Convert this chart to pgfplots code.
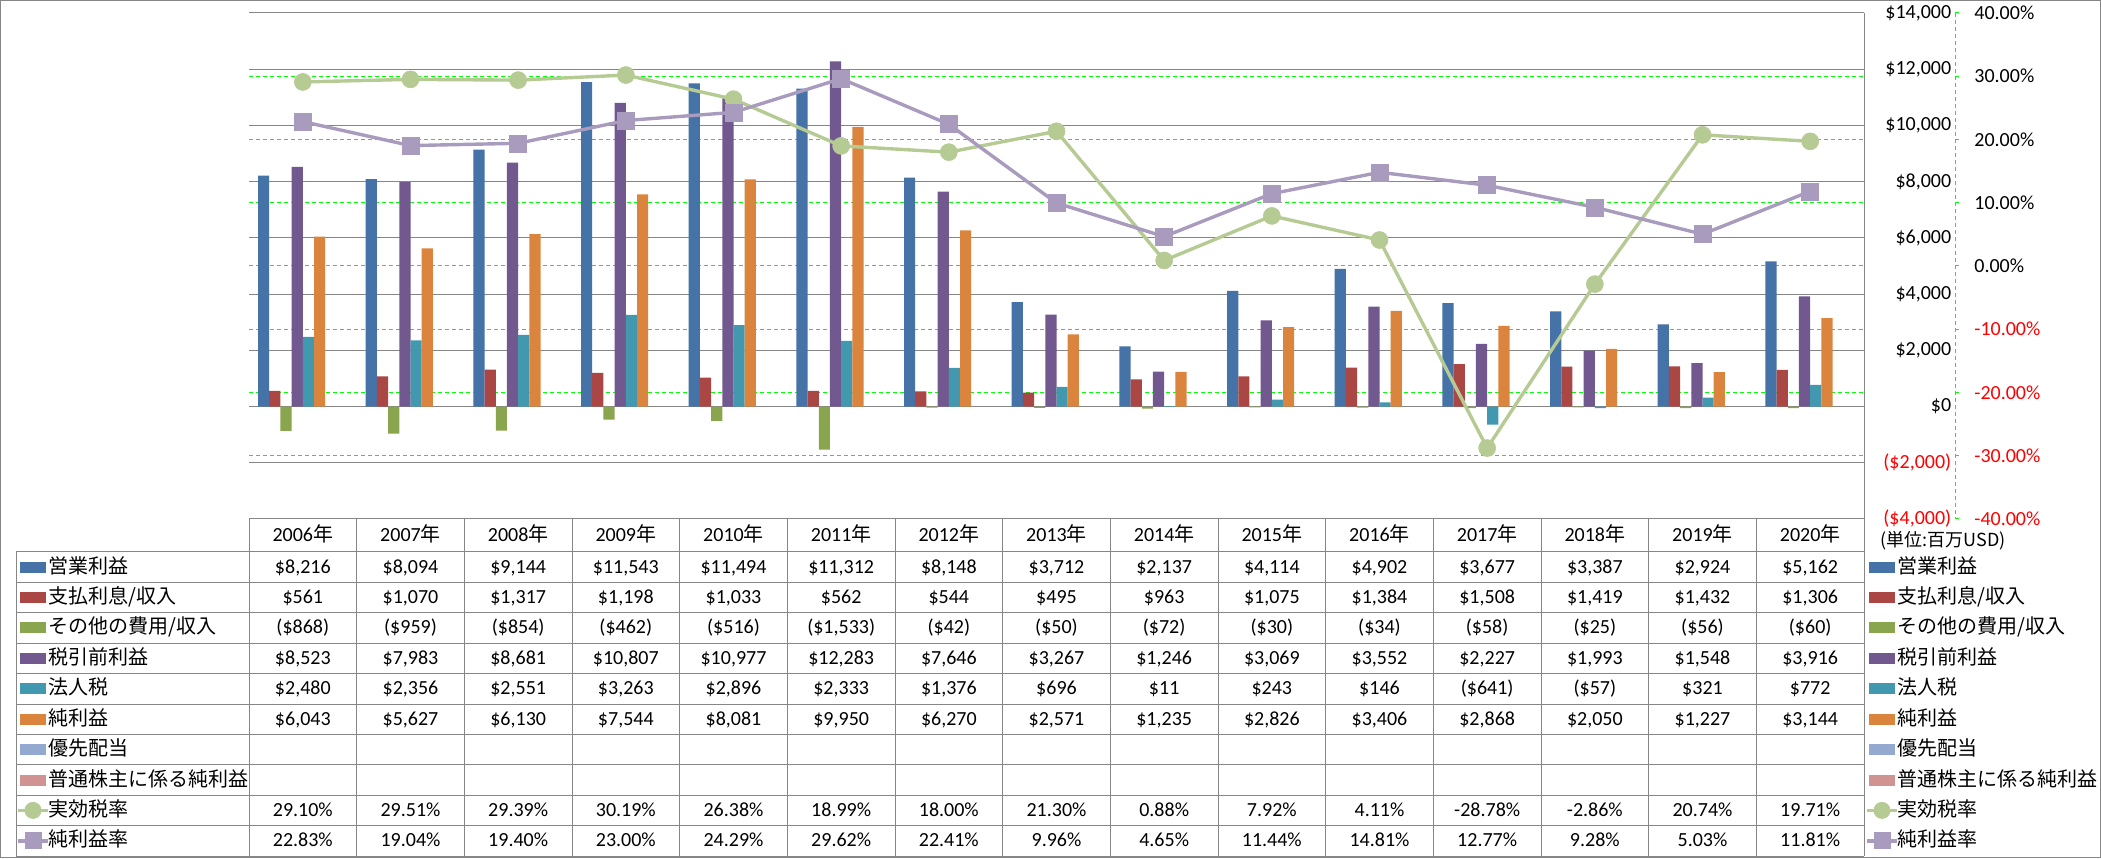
\documentclass[border=0pt]{standalone}
\usepackage{fontspec}
\setmainfont{Carlito}
\newfontfamily\jp{Noto Sans CJK JP}
\usepackage{pgfplots}
\pgfplotsset{compat=1.18}
\definecolor{cBlue}{HTML}{4572A7}
\definecolor{cRed}{HTML}{AA4643}
\definecolor{cGreen}{HTML}{89A54E}
\definecolor{cPurple}{HTML}{71588F}
\definecolor{cTeal}{HTML}{4198AF}
\definecolor{cOrange}{HTML}{DB843D}
\definecolor{cLBlue}{HTML}{93A9CF}
\definecolor{cPink}{HTML}{D19392}
\definecolor{cLGreen}{HTML}{B6CB94}
\definecolor{cLPurple}{HTML}{A99BBD}
\definecolor{gridgray}{HTML}{868686}
\definecolor{lime}{HTML}{00FF00}
\newcommand\tabrow[2]{\foreach \v [count=\i from 0] in {#2} {\node[anchor=base, inner sep=0pt] at ({302.83+107.667*\i},#1) {\v};}}
\begin{document}
\begin{tikzpicture}
\useasboundingbox (0,0) rectangle (1050.5pt,429pt);
\begin{axis}[
  at={(124.5pt,169.5pt)}, anchor=south west,
  scale only axis, width=807.5pt, height=253pt,
  xmin=-0.5, xmax=14.5, ymin=-4000, ymax=14000,
  axis x line=none, axis y line*=right,
  y axis line style={draw=gridgray, line width=0.5pt},
  ytick={-4000,-2000,0,2000,4000,6000,8000,10000,12000,14000},
  yticklabels={{\textcolor{red}{(\$4,000)}},{\textcolor{red}{(\$2,000)}},{\$0},{\$2,000},{\$4,000},{\$6,000},{\$8,000},{\$10,000},{\$12,000},{\$14,000}},
  yticklabel style={anchor=east, inner sep=0pt, xshift=43.8pt, font=\fontsize{10}{12}\selectfont},
  major tick length=0pt,
  ymajorgrids, major grid style={gridgray, line width=0.5pt},
  extra y ticks={-1750,500,2750,5000,7250,9500,11750},
  extra y tick labels={},
  extra y tick style={grid=major, major grid style={lime, dash pattern=on 2.2pt off 1.3pt, line width=0.5pt}},
]
\addplot[ybar, bar width=0.104, bar shift=-0.364, fill=cBlue, draw=none] coordinates {(0,8216) (1,8094) (2,9144) (3,11543) (4,11494) (5,11312) (6,8148) (7,3712) (8,2137) (9,4114) (10,4902) (11,3677) (12,3387) (13,2924) (14,5162)};
\addplot[ybar, bar width=0.104, bar shift=-0.26, fill=cRed, draw=none] coordinates {(0,561) (1,1070) (2,1317) (3,1198) (4,1033) (5,562) (6,544) (7,495) (8,963) (9,1075) (10,1384) (11,1508) (12,1419) (13,1432) (14,1306)};
\addplot[ybar, bar width=0.104, bar shift=-0.156, fill=cGreen, draw=none] coordinates {(0,-868) (1,-959) (2,-854) (3,-462) (4,-516) (5,-1533) (6,-42) (7,-50) (8,-72) (9,-30) (10,-34) (11,-58) (12,-25) (13,-56) (14,-60)};
\addplot[ybar, bar width=0.104, bar shift=-0.052, fill=cPurple, draw=none] coordinates {(0,8523) (1,7983) (2,8681) (3,10807) (4,10977) (5,12283) (6,7646) (7,3267) (8,1246) (9,3069) (10,3552) (11,2227) (12,1993) (13,1548) (14,3916)};
\addplot[ybar, bar width=0.104, bar shift=0.052, fill=cTeal, draw=none] coordinates {(0,2480) (1,2356) (2,2551) (3,3263) (4,2896) (5,2333) (6,1376) (7,696) (8,11) (9,243) (10,146) (11,-641) (12,-57) (13,321) (14,772)};
\addplot[ybar, bar width=0.104, bar shift=0.156, fill=cOrange, draw=none] coordinates {(0,6043) (1,5627) (2,6130) (3,7544) (4,8081) (5,9950) (6,6270) (7,2571) (8,1235) (9,2826) (10,3406) (11,2868) (12,2050) (13,1227) (14,3144)};
\end{axis}
\begin{axis}[
  at={(124.5pt,169.5pt)}, anchor=south west,
  scale only axis, width=807.5pt, height=253pt,
  xmin=-0.5, xmax=14.5, ymin=-40, ymax=40,
  axis x line=none, axis y line*=right,
  y axis line style={draw=none},
  ytick={-40,-30,-20,-10,0,10,20,30,40},
  yticklabels={{\textcolor{red}{-40.00\%}},{\textcolor{red}{-30.00\%}},{\textcolor{red}{-20.00\%}},{\textcolor{red}{-10.00\%}},{0.00\%},{10.00\%},{20.00\%},{30.00\%},{40.00\%}},
  yticklabel style={anchor=west, inner sep=0pt, xshift=55pt, font=\fontsize{10}{12}\selectfont},
  major tick length=0pt,
]
\addplot[cLGreen, line width=1.7pt, mark=*, mark size=4.25pt, mark options={solid, fill=cLGreen, draw=cLGreen, line width=0.3pt}] coordinates {(0,29.10) (1,29.51) (2,29.39) (3,30.19) (4,26.38) (5,18.99) (6,18.00) (7,21.30) (8,0.88) (9,7.92) (10,4.11) (11,-28.78) (12,-2.86) (13,20.74) (14,19.71)};
\addplot[cLPurple, line width=1.7pt, mark=square*, mark size=4.25pt, mark options={solid, fill=cLPurple, draw=cLPurple, line width=0.3pt}] coordinates {(0,22.83) (1,19.04) (2,19.40) (3,23.00) (4,24.29) (5,29.62) (6,22.41) (7,9.96) (8,4.65) (9,11.44) (10,14.81) (11,12.77) (12,9.28) (13,5.03) (14,11.81)};
\end{axis}
\begin{scope}[x=0.5pt, y=-0.5pt, shift={(0pt,429pt)}]
% outer border
\draw[gridgray, line width=0.5pt] (0.5,0.5) rectangle (2100.5,857.5);
% secondary axis line
\draw[lime, line width=0.5pt, dash pattern=on 2.2pt off 1.3pt] (1955,13) -- (1955,519);
\foreach \k in {0,...,8} \draw[lime, line width=0.5pt] (1955,{13+63.25*\k}) -- (1959,{13+63.25*\k});
% table grid
\draw[gridgray, line width=0.5pt] (249,519) -- (1864,519);
\foreach \k in {0,...,10} \draw[gridgray, line width=0.5pt] (16,{552+30.4*\k}) -- (1864,{552+30.4*\k});
\draw[gridgray, line width=0.5pt] (16,552) -- (16,856);
\foreach \k in {0,...,15} \draw[gridgray, line width=0.5pt] ({249+107.667*\k},519) -- ({249+107.667*\k},856);
% header
\foreach \yr [count=\i from 0] in {2006,2007,2008,2009,2010,2011,2012,2013,2014,2015,2016,2017,2018,2019,2020}
  \node[anchor=base, inner sep=0pt] at ({302.83+107.667*\i},541.5) {\yr{\jp 年}};
% rows
\tabrow{573.2}{{\$8,216},{\$8,094},{\$9,144},{\$11,543},{\$11,494},{\$11,312},{\$8,148},{\$3,712},{\$2,137},{\$4,114},{\$4,902},{\$3,677},{\$3,387},{\$2,924},{\$5,162}}
\tabrow{603.6}{{\$561},{\$1,070},{\$1,317},{\$1,198},{\$1,033},{\$562},{\$544},{\$495},{\$963},{\$1,075},{\$1,384},{\$1,508},{\$1,419},{\$1,432},{\$1,306}}
\tabrow{634.0}{{(\$868)},{(\$959)},{(\$854)},{(\$462)},{(\$516)},{(\$1,533)},{(\$42)},{(\$50)},{(\$72)},{(\$30)},{(\$34)},{(\$58)},{(\$25)},{(\$56)},{(\$60)}}
\tabrow{664.4}{{\$8,523},{\$7,983},{\$8,681},{\$10,807},{\$10,977},{\$12,283},{\$7,646},{\$3,267},{\$1,246},{\$3,069},{\$3,552},{\$2,227},{\$1,993},{\$1,548},{\$3,916}}
\tabrow{694.8}{{\$2,480},{\$2,356},{\$2,551},{\$3,263},{\$2,896},{\$2,333},{\$1,376},{\$696},{\$11},{\$243},{\$146},{(\$641)},{(\$57)},{\$321},{\$772}}
\tabrow{725.2}{{\$6,043},{\$5,627},{\$6,130},{\$7,544},{\$8,081},{\$9,950},{\$6,270},{\$2,571},{\$1,235},{\$2,826},{\$3,406},{\$2,868},{\$2,050},{\$1,227},{\$3,144}}
\tabrow{816.4}{{29.10\%},{29.51\%},{29.39\%},{30.19\%},{26.38\%},{18.99\%},{18.00\%},{21.30\%},{0.88\%},{7.92\%},{4.11\%},{-28.78\%},{-2.86\%},{20.74\%},{19.71\%}}
\tabrow{846.8}{{22.83\%},{19.04\%},{19.40\%},{23.00\%},{24.29\%},{29.62\%},{22.41\%},{9.96\%},{4.65\%},{11.44\%},{14.81\%},{12.77\%},{9.28\%},{5.03\%},{11.81\%}}
% legends (left and right)
\foreach \xk/\xt in {20/48, 1869/1897} {
  \fill[cBlue]   (\xk,561.7) rectangle ++(26,11);
  \fill[cRed]    (\xk,592.1) rectangle ++(26,11);
  \fill[cGreen]  (\xk,622.5) rectangle ++(26,11);
  \fill[cPurple] (\xk,652.9) rectangle ++(26,11);
  \fill[cTeal]   (\xk,683.3) rectangle ++(26,11);
  \fill[cOrange] (\xk,713.7) rectangle ++(26,11);
  \fill[cLBlue]  (\xk,744.1) rectangle ++(26,11);
  \fill[cPink]   (\xk,774.5) rectangle ++(26,11);
  \draw[cLGreen, line width=1.7pt] ({\xk-2},810.4) -- ({\xk+28},810.4);
  \fill[cLGreen] ({\xk+13},810.4) circle (4.25pt);
  \draw[cLPurple, line width=1.7pt] ({\xk-2},840.8) -- ({\xk+28},840.8);
  \fill[cLPurple] ({\xk+13-8.5},{840.8-8.5}) rectangle ++(17,17);
  \node[anchor=base west, inner sep=0pt] at (\xt,573.2) {\jp 営業利益};
  \node[anchor=base west, inner sep=0pt] at (\xt,603.6) {\jp 支払利息/収入};
  \node[anchor=base west, inner sep=0pt] at (\xt,634.0) {\jp その他の費用/収入};
  \node[anchor=base west, inner sep=0pt] at (\xt,664.4) {\jp 税引前利益};
  \node[anchor=base west, inner sep=0pt] at (\xt,694.8) {\jp 法人税};
  \node[anchor=base west, inner sep=0pt] at (\xt,725.2) {\jp 純利益};
  \node[anchor=base west, inner sep=0pt] at (\xt,755.6) {\jp 優先配当};
  \node[anchor=base west, inner sep=0pt] at (\xt,786.0) {\jp 普通株主に係る純利益};
  \node[anchor=base west, inner sep=0pt] at (\xt,816.4) {\jp 実効税率};
  \node[anchor=base west, inner sep=0pt] at (\xt,846.8) {\jp 純利益率};
}
\node[anchor=base west, inner sep=0pt] at (1880,546.5) {\jp\fontsize{9}{10}\selectfont (単位:百万USD)};
\end{scope}
\end{tikzpicture}
\end{document}
